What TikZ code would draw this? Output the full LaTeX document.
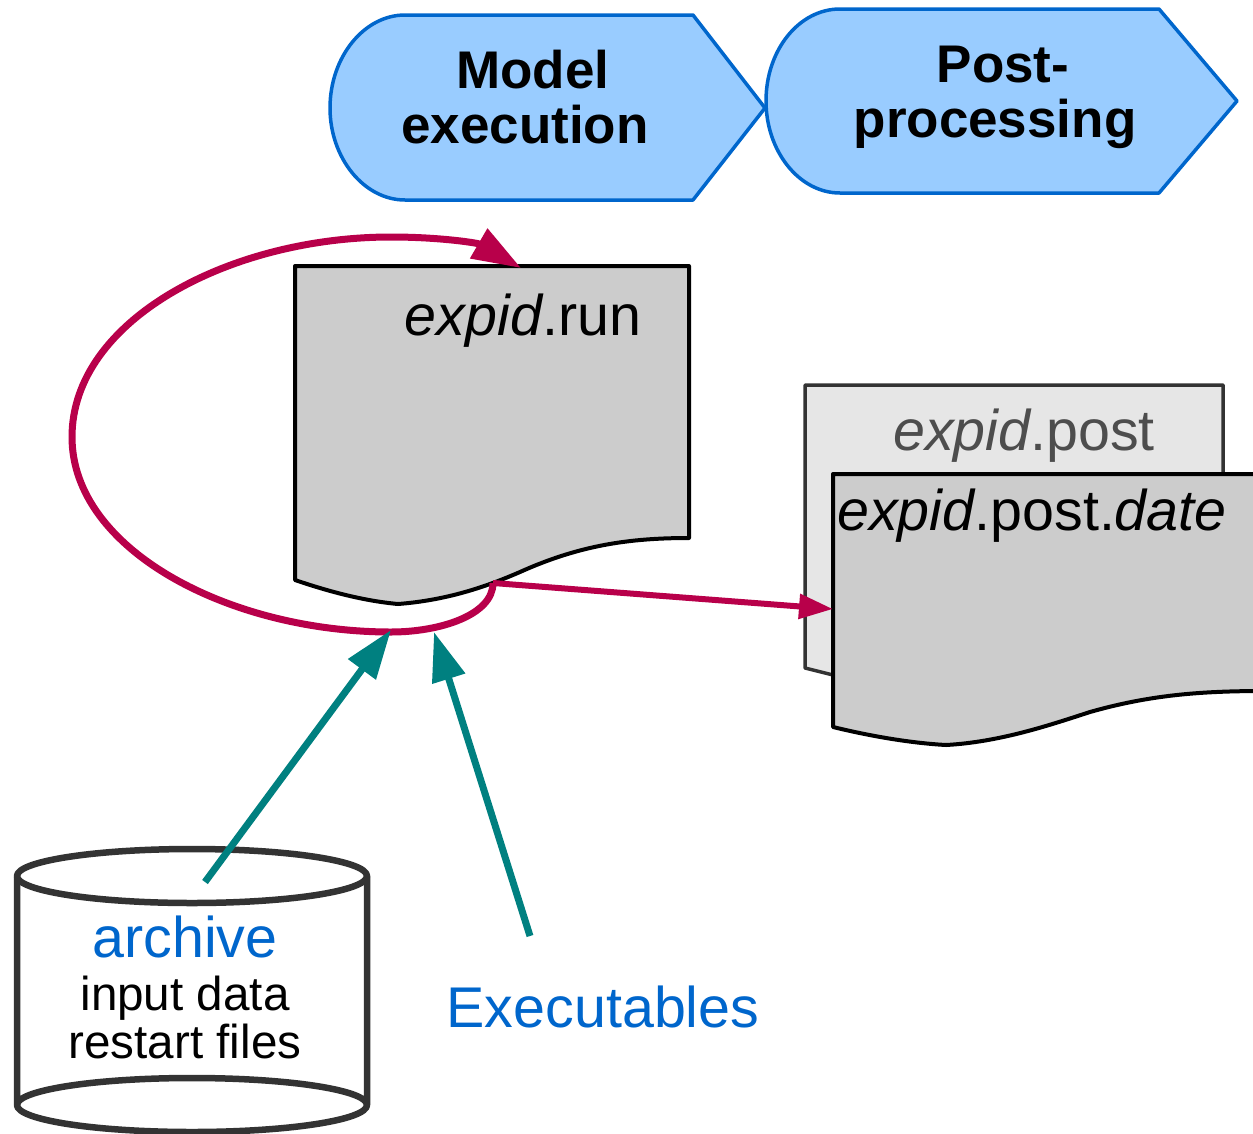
\documentclass[tikz,border=0pt]{standalone}
\usepackage{fontspec}
\setmainfont{Liberation Sans}
\usetikzlibrary{arrows.meta}
\definecolor{phasefill}{HTML}{99CCFF}
\definecolor{phaseblue}{HTML}{0066CC}
\definecolor{loopred}{HTML}{B8004A}
\definecolor{inteal}{HTML}{008080}
\definecolor{docgray}{HTML}{CCCCCC}
\definecolor{lightdoc}{HTML}{E6E6E6}
\definecolor{lightline}{HTML}{333333}
\definecolor{lighttext}{HTML}{4D4D4D}
\tikzset{
  phase/.style={draw=phaseblue,fill=phasefill,line width=3.5pt,line join=round},
  phasetext/.style={align=center,font=\fontsize{53}{55}\selectfont\bfseries,inner sep=0pt,anchor=base},
  doc/.style={draw=black,fill=docgray,line width=4pt,line join=round},
  bgdoc/.style={draw=lightline,fill=lightdoc,line width=3.5pt,line join=round},
  label/.style={font=\fontsize{57.4}{60}\selectfont,inner sep=0pt,anchor=base},
  small/.style={align=center,font=\fontsize{47.6}{48}\selectfont,inner sep=0pt,anchor=base},
  can/.style={draw=lightline,line width=6.5pt,line join=round,fill=white},
  redline/.style={draw=loopred,line width=7pt},
  tealline/.style={draw=inteal,line width=7pt,-{Triangle[length=49pt,width=33pt]}},
}
\begin{document}
\begin{tikzpicture}[x=1pt,y=-1pt]
\clip (0,0) rectangle (1253,1133);
% phases
\path[phase] (405,15) -- (693,15) -- (765,108) -- (693,200) -- (405,200)
  .. controls (364,200) and (330,158) .. (330,108)
  .. controls (330,57) and (364,15) .. (405,15) -- cycle;
\path[phase] (840,9) -- (1159,9) -- (1237,101) -- (1159,193) -- (840,193)
  .. controls (799,193) and (766,151) .. (766,101)
  .. controls (766,50) and (799,9) .. (840,9) -- cycle;
\node[phasetext] (model) at (525,143) {\hspace*{16pt}Model\\execution};
\node[phasetext] (post) at (995,137) {\hspace*{16pt}Post-\\processing};
% expid.run
\path[doc] (295,266) -- (689,266) -- (689,538)
  .. controls (630,538) and (580,545) .. (520,572)
  .. controls (490,585) and (450,600) .. (398,604)
  .. controls (365,601) and (330,592) .. (295,580) -- cycle;
\node[label] (run) at (523,335) {\textit{expid}.run};
% expid.post
\path[bgdoc] (805,385) -- (1223,385) -- (1223,680) -- (833,675) -- (805,668) -- cycle;
\node[label,text=lighttext] (postdoc) at (1024,450) {\textit{expid}.post};
% expid.post.date
\path[doc] (1265,474) -- (833,474) -- (833,727)
  .. controls (870,736) and (910,743) .. (946,745)
  .. controls (1000,742) and (1050,725) .. (1090,712)
  .. controls (1150,695) and (1200,691) .. (1265,691);
\node[label] (postdate) at (1032,530) {\textit{expid}.post.\textit{date}};
% archive can
\path[can] (17,876) -- (17,1105) arc[start angle=180,end angle=360,x radius=175,y radius=27]
  -- (367,876) arc[start angle=0,end angle=-180,x radius=175,y radius=27] -- cycle;
\draw[can,fill=none] (17,876) arc[start angle=180,end angle=0,x radius=175,y radius=27];
\draw[can,fill=none] (17,1105) arc[start angle=180,end angle=0,x radius=175,y radius=27];
\node[label,text=phaseblue] (archive) at (185,957) {archive};
\node[small] (inputs) at (185,1058) {input data\\restart files};
\node[label,text=phaseblue] (exe) at (603,1027) {Executables};
% connector anchors
\coordinate (loopstart) at (493,583);
\coordinate (looptop) at (521,268);
\coordinate (datein) at (833,609);
\coordinate (archout) at (205,882);
\coordinate (archin) at (391,630);
\coordinate (exeout) at (530,936);
\coordinate (exein) at (434,632);
% connectors
\draw[redline,-{Triangle[length=49pt,width=33pt]}] (loopstart)
  .. controls (493,615) and (440,632) .. (391,632)
  .. controls (230,632) and (72,550) .. (72,437)
  .. controls (72,320) and (230,237) .. (391,237)
  .. controls (440,237) and (478,243) .. (looptop);
\draw[redline,line width=6pt,-{Triangle[length=34pt,width=24pt]}] (loopstart) -- (datein);
\draw[tealline] (archout) -- (archin);
\draw[tealline] (exeout) -- (exein);
\end{tikzpicture}
\end{document}
